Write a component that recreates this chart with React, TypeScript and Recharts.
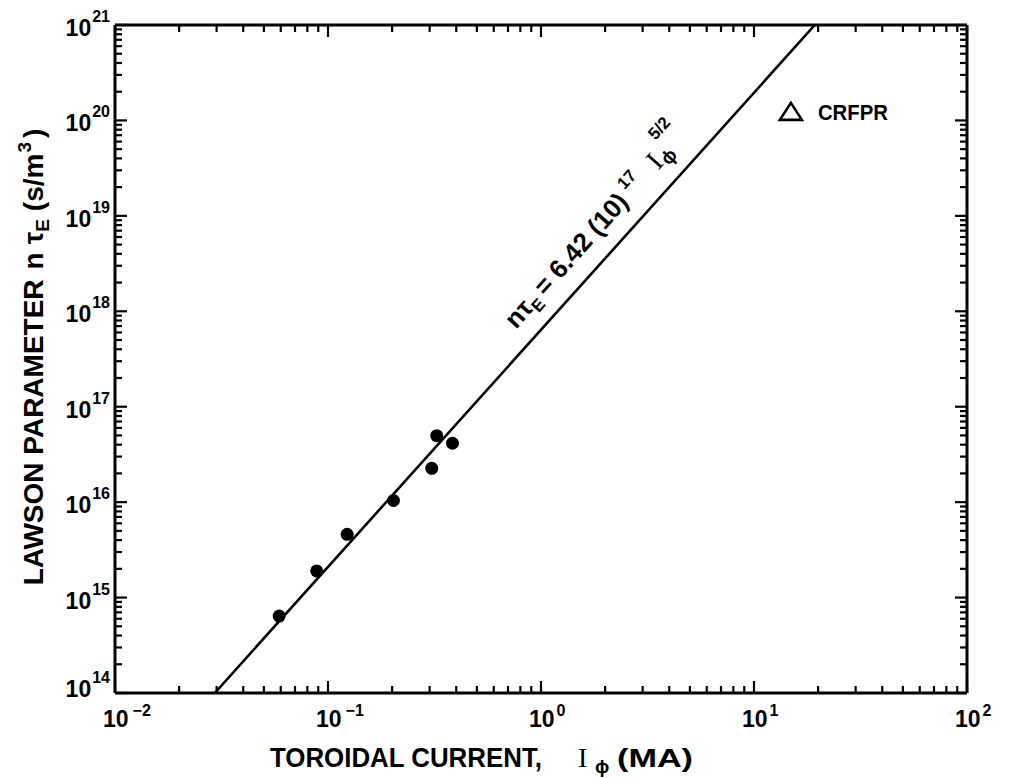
import { ScatterChart, Scatter, XAxis, YAxis } from "recharts"

const FONT = "'Liberation Sans', Arial, Helvetica, sans-serif"
const SERIF = "'Liberation Serif', 'Times New Roman', serif"

// axis decades + minor multipliers
const X_DECADES = [0.01, 0.1, 1, 10, 100]
const Y_DECADES = [1e14, 1e15, 1e16, 1e17, 1e18, 1e19, 1e20, 1e21]
const MINOR_STEPS = [2, 3, 4, 5, 6, 7, 8, 9]

// measured points: toroidal current (MA) vs n tau_E (s/m^3)
const CURRENT = [0.059, 0.0885, 0.123, 0.203, 0.307, 0.324, 0.384]
const LAWSON = [6.4e14, 1.9e15, 4.6e15, 1.04e16, 2.26e16, 4.97e16, 4.14e16]

// fit line, read where it meets the frame
const FIT_CURRENT = [0.0294, 19.3]
const FIT_LAWSON = [1e14, 1e21]

// CRFPR design point
const CRFPR_CURRENT = [14.9]
const CRFPR_LAWSON = [1.23e20]

// baseline centre of the fit equation
const EQ_CURRENT = [1.93]
const EQ_LAWSON = [6.5e18]

const logTicks = (decades: number[]) =>
  decades.flatMap((d, i) => (i === decades.length - 1 ? [d] : [d, ...MINOR_STEPS.map((m) => d * m)]))

const xTicks = logTicks(X_DECADES)
const yTicks = logTicks(Y_DECADES)

const pairs = (xs: number[], ys: number[]) => xs.map((x, i) => ({ x, y: ys[i] }))

const points = pairs(CURRENT, LAWSON)
const fitLine = pairs(FIT_CURRENT, FIT_LAWSON)
const crfpr = pairs(CRFPR_CURRENT, CRFPR_LAWSON)
const eqPos = pairs(EQ_CURRENT, EQ_LAWSON)

const expOf = (v: number) => Math.round(Math.log10(v))
const isDecade = (v: number) => Math.abs(Math.log10(v) - expOf(v)) < 1e-6

const MAJOR = 12
const MINOR = 7
const TICK_W = 2.2

function BottomTick(props: any) {
  const { x, y, payload } = props
  const major = isDecade(payload.value)
  const e = expOf(payload.value)
  return (
    <g>
      <line x1={x} x2={x} y1={y} y2={y - (major ? MAJOR : MINOR)} stroke="#000" strokeWidth={TICK_W} />
      {major && (
        <text x={x - 12} y={y + 34} fontSize={23} fontWeight="bold" fontFamily={FONT} fill="#000">
          10
          <tspan dx={e < 0 ? 4 : 2} dy={-11} fontSize={16}>
            {e < 0 ? "\u2212" + Math.abs(e) : String(e)}
          </tspan>
        </text>
      )}
    </g>
  )
}

function TopTick(props: any) {
  const { x, y, payload } = props
  const major = isDecade(payload.value)
  return <line x1={x} x2={x} y1={y} y2={y + (major ? MAJOR : MINOR)} stroke="#000" strokeWidth={TICK_W} />
}

function LeftTick(props: any) {
  const { x, y, payload } = props
  const v = payload.value
  const major = isDecade(v)
  const base = v === Y_DECADES[0] ? y + 4 : y + 11
  return (
    <g>
      <line x1={x} x2={x + (major ? MAJOR : MINOR)} y1={y} y2={y} stroke="#000" strokeWidth={TICK_W} />
      {major && (
        <text x={x - 5} y={base} textAnchor="end" fontSize={23} fontWeight="bold" fontFamily={FONT} fill="#000">
          10
          <tspan dx={1} dy={-14} fontSize={16}>
            {expOf(v)}
          </tspan>
        </text>
      )}
    </g>
  )
}

function RightTick(props: any) {
  const { x, y, payload } = props
  const major = isDecade(payload.value)
  return <line x1={x} x2={x - (major ? MAJOR : MINOR)} y1={y} y2={y} stroke="#000" strokeWidth={TICK_W} />
}

function XTitle(props: any) {
  const vb = props.viewBox
  const y = vb.y + 74
  return (
    <g fill="#000" fontFamily={FONT} fontWeight="bold">
      <text x={270} y={y} fontSize={27} textLength={272} lengthAdjust="spacingAndGlyphs">
        TOROIDAL CURRENT,
      </text>
      <text x={578} y={y} fontSize={28} fontFamily={SERIF} fontWeight="normal">
        I
      </text>
      <text x={595} y={y + 6} fontSize={19}>
        ϕ
      </text>
      <text x={617} y={y} fontSize={26} textLength={76} lengthAdjust="spacingAndGlyphs">
        (MA)
      </text>
    </g>
  )
}

function YTitle(props: any) {
  const vb = props.viewBox
  const cx = 43
  const cy = vb.y + vb.height / 2 - 2
  return (
    <text
      x={cx}
      y={cy}
      transform={`rotate(-90 ${cx} ${cy})`}
      textAnchor="middle"
      fontSize={28}
      fontWeight="bold"
      fontFamily={FONT}
      fill="#000"
    >
      LAWSON PARAMETER
      <tspan dx={10}>n</tspan>
      <tspan dx={8}>τ</tspan>
      <tspan dy={6} fontSize={19}>E</tspan>
      <tspan dx={8} dy={-6}>(s/m</tspan>
      <tspan dx={1} dy={-12} fontSize={19}>3</tspan>
      <tspan dx={4} dy={12}>)</tspan>
    </text>
  )
}

function Dot(props: any) {
  return <circle cx={props.cx} cy={props.cy} r={6.5} fill="#000" />
}

function Triangle(props: any) {
  const { cx, cy } = props
  return (
    <g>
      <path
        d={`M${cx},${cy - 9} L${cx + 11},${cy + 8} L${cx - 11},${cy + 8} Z`}
        fill="none"
        stroke="#000"
        strokeWidth={2.6}
      />
      <text x={cx + 27} y={cy + 8} fontSize={22} fontWeight="bold" fontFamily={FONT} fill="#000" textLength={70} lengthAdjust="spacingAndGlyphs">
        CRFPR
      </text>
    </g>
  )
}

function Equation(props: any) {
  const { cx, cy } = props
  return (
    <text
      x={cx}
      y={cy}
      transform={`rotate(-48.2 ${cx} ${cy})`}
      textAnchor="middle"
      fontSize={26}
      fontWeight="bold"
      fontFamily={FONT}
      fill="#000"
    >
      nτ
      <tspan dy={6} fontSize={17}>E</tspan>
      <tspan dx={5} dy={-6}>= 6.42 (10)</tspan>
      <tspan dx={6} dy={-12} fontSize={17}>17</tspan>
      <tspan dx={18} dy={12} fontFamily={SERIF} fontWeight="normal" fontSize={28}>I</tspan>
      <tspan dx={1} dy={5} fontSize={19}>ϕ</tspan>
      <tspan dx={-4} dy={-27} fontSize={17}>5/2</tspan>
    </text>
  )
}

const Empty = () => <g />

export default function App() {
  return (
    <div style={{ position: "absolute", left: 0, top: 0, width: 1010, height: 778, background: "#fff" }}>
      <ScatterChart width={1010} height={778} margin={{ top: 24, right: 42, bottom: 25, left: 15 }}>
        <XAxis
          xAxisId="bottom"
          type="number"
          dataKey="x"
          scale="log"
          domain={[0.01, 100]}
          allowDataOverflow
          ticks={xTicks}
          interval={0}
          height={60}
          tickSize={0}
          tickMargin={0}
          tickLine={false}
          axisLine={{ stroke: "#000", strokeWidth: 3 }}
          tick={(p: any) => <BottomTick {...p} />}
          label={{ content: (p: any) => <XTitle {...p} /> }}
        />
        <XAxis
          xAxisId="top"
          orientation="top"
          type="number"
          dataKey="x"
          scale="log"
          domain={[0.01, 100]}
          allowDataOverflow
          ticks={xTicks}
          interval={0}
          height={1}
          tickSize={0}
          tickMargin={0}
          tickLine={false}
          axisLine={{ stroke: "#000", strokeWidth: 3 }}
          tick={(p: any) => <TopTick {...p} />}
        />
        <YAxis
          yAxisId="left"
          type="number"
          dataKey="y"
          scale="log"
          domain={[1e14, 1e21]}
          allowDataOverflow
          ticks={yTicks}
          interval={0}
          width={100}
          tickSize={0}
          tickMargin={0}
          tickLine={false}
          axisLine={{ stroke: "#000", strokeWidth: 3 }}
          tick={(p: any) => <LeftTick {...p} />}
          label={{ content: (p: any) => <YTitle {...p} /> }}
        />
        <YAxis
          yAxisId="right"
          orientation="right"
          type="number"
          dataKey="y"
          scale="log"
          domain={[1e14, 1e21]}
          allowDataOverflow
          ticks={yTicks}
          interval={0}
          width={1}
          tickSize={0}
          tickMargin={0}
          tickLine={false}
          axisLine={{ stroke: "#000", strokeWidth: 3 }}
          tick={(p: any) => <RightTick {...p} />}
        />
        <Scatter xAxisId="top" yAxisId="right" data={fitLine} shape={Empty} isAnimationActive={false} />
        <Scatter
          xAxisId="bottom"
          yAxisId="left"
          data={fitLine}
          line={{ stroke: "#000", strokeWidth: 2.6 }}
          shape={Empty}
          isAnimationActive={false}
        />
        <Scatter xAxisId="bottom" yAxisId="left" data={points} shape={Dot} isAnimationActive={false} />
        <Scatter xAxisId="bottom" yAxisId="left" data={crfpr} shape={Triangle} isAnimationActive={false} />
        <Scatter xAxisId="bottom" yAxisId="left" data={eqPos} shape={Equation} isAnimationActive={false} />
      </ScatterChart>
    </div>
  )
}
